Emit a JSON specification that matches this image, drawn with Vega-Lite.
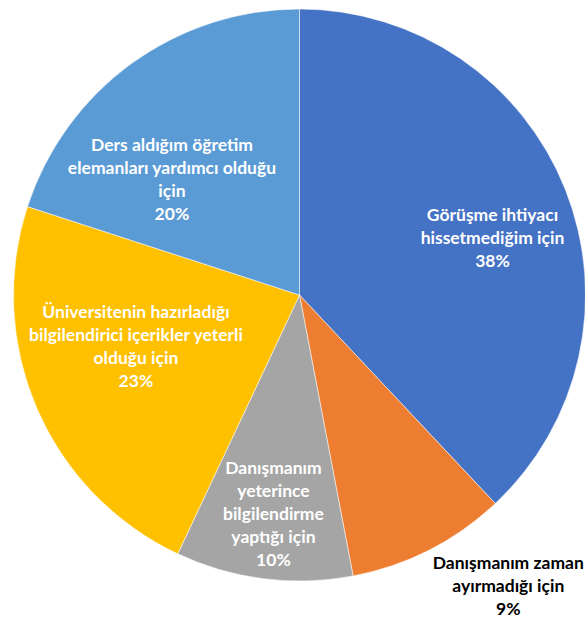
{
  "$schema": "https://vega.github.io/schema/vega-lite/v6.json",
  "width": 572,
  "height": 572,
  "autosize": "none",
  "padding": {"left": 13.5, "top": 9, "right": 0, "bottom": 38},
  "background": "white",
  "view": {"stroke": null},
  "data": {
    "values": [
      {"idx": 1, "category": "Görüşme ihtiyacı hissetmediğim için", "value": 38, "label": ["Görüşme ihtiyacı", "hissetmediğim için", "38%"]},
      {"idx": 2, "category": "Danışmanım zaman ayırmadığı için", "value": 9, "label": ["Danışmanım zaman", "ayırmadığı için", "9%"]},
      {"idx": 3, "category": "Danışmanım yeterince bilgilendirme yaptığı için", "value": 10, "label": ["Danışmanım", "yeterince", "bilgilendirme", "yaptığı için", "10%"]},
      {"idx": 4, "category": "Üniversitenin hazırladığı bilgilendirici içerikler yeterli olduğu için", "value": 23, "label": ["Üniversitenin hazırladığı", "bilgilendirici içerikler yeterli", "olduğu için", "23%"]},
      {"idx": 5, "category": "Ders aldığım öğretim elemanları yardımcı olduğu için", "value": 20, "label": ["Ders aldığım öğretim", "elemanları yardımcı olduğu", "için", "20%"]}
    ]
  },
  "encoding": {
    "theta": {"field": "value", "type": "quantitative", "stack": true},
    "order": {"field": "idx", "type": "quantitative"}
  },
  "layer": [
    {
      "mark": {"type": "arc", "outerRadius": 286, "stroke": "white", "strokeWidth": 0.5},
      "encoding": {
        "color": {
          "field": "category",
          "type": "nominal",
          "legend": null,
          "sort": null,
          "scale": {
            "domain": [
              "Görüşme ihtiyacı hissetmediğim için",
              "Danışmanım zaman ayırmadığı için",
              "Danışmanım yeterince bilgilendirme yaptığı için",
              "Üniversitenin hazırladığı bilgilendirici içerikler yeterli olduğu için",
              "Ders aldığım öğretim elemanları yardımcı olduğu için"
            ],
            "range": ["#4472C4", "#ED7D31", "#A5A5A5", "#FFC000", "#5B9BD5"]
          }
        }
      }
    },
    {
      "mark": {"type": "text", "radius": 200, "font": "Lato", "fontWeight": "bold", "fontSize": 17.5, "lineHeight": 23, "align": "center", "baseline": "middle", "color": "white", "dx": 7, "dy": -5},
      "encoding": {"text": {"condition": {"test": "datum.idx === 1", "field": "label"}, "value": ""}}
    },
    {
      "mark": {"type": "text", "radius": 200, "font": "Lato", "fontWeight": "bold", "fontSize": 17.5, "lineHeight": 23, "align": "center", "baseline": "middle", "color": "black", "dx": 118, "dy": 91},
      "encoding": {"text": {"condition": {"test": "datum.idx === 2", "field": "label"}, "value": ""}}
    },
    {
      "mark": {"type": "text", "radius": 200, "font": "Lato", "fontWeight": "bold", "fontSize": 17.5, "lineHeight": 23, "align": "center", "baseline": "middle", "color": "white", "dx": -1, "dy": -24},
      "encoding": {"text": {"condition": {"test": "datum.idx === 3", "field": "label"}, "value": ""}}
    },
    {
      "mark": {"type": "text", "radius": 200, "font": "Lato", "fontWeight": "bold", "fontSize": 17.5, "lineHeight": 23, "align": "center", "baseline": "middle", "color": "white", "dx": 20, "dy": -61.5},
      "encoding": {"text": {"condition": {"test": "datum.idx === 4", "field": "label"}, "value": ""}}
    },
    {
      "mark": {"type": "text", "radius": 200, "font": "Lato", "fontWeight": "bold", "fontSize": 17.5, "lineHeight": 23, "align": "center", "baseline": "middle", "color": "white", "dx": -10, "dy": 12.5},
      "encoding": {"text": {"condition": {"test": "datum.idx === 5", "field": "label"}, "value": ""}}
    }
  ]
}
